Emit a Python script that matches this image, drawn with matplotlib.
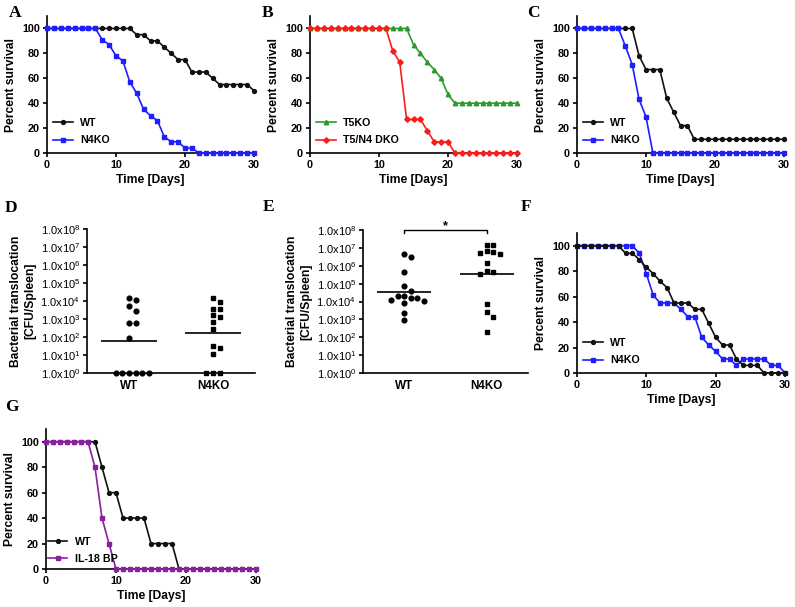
import numpy as np
import matplotlib
matplotlib.use('Agg')
import matplotlib.pyplot as plt

plt.rcParams['font.family'] = ['Liberation Sans', 'DejaVu Sans']
plt.rcParams['mathtext.fontset'] = 'custom'
plt.rcParams['mathtext.rm'] = 'Liberation Sans'
plt.rcParams['mathtext.it'] = 'Liberation Sans:italic'
plt.rcParams['mathtext.bf'] = 'Liberation Sans:bold'

# ---------------- data ----------------
days = list(range(31))

A_wt = [100, 100, 100, 100, 100, 100, 100, 100, 100, 100, 100, 100, 100, 95, 95, 90,
        90, 85, 80, 75, 75, 65, 65, 65, 60, 55, 55, 55, 55, 55, 50]
A_n4ko = [100, 100, 100, 100, 100, 100, 100, 100, 91, 87, 78, 74, 57, 48, 35, 30,
          26, 13, 9, 9, 4, 4, 0, 0, 0, 0, 0, 0, 0, 0, 0]

B_t5ko = [100, 100, 100, 100, 100, 100, 100, 100, 100, 100, 100, 100, 100, 100, 100, 87,
          80, 73, 67, 60, 47, 40, 40, 40, 40, 40, 40, 40, 40, 40, 40]
B_dko = [100, 100, 100, 100, 100, 100, 100, 100, 100, 100, 100, 100, 82, 73, 27, 27,
         27, 18, 9, 9, 9, 0, 0, 0, 0, 0, 0, 0, 0, 0, 0]

C_wt = [100, 100, 100, 100, 100, 100, 100, 100, 100, 78, 67, 67, 67, 44, 33, 22,
        22, 11, 11, 11, 11, 11, 11, 11, 11, 11, 11, 11, 11, 11, 11]
C_n4ko = [100, 100, 100, 100, 100, 100, 100, 86, 71, 43, 29, 0, 0, 0, 0, 0,
          0, 0, 0, 0, 0, 0, 0, 0, 0, 0, 0, 0, 0, 0, 0]

F_wt = [100, 100, 100, 100, 100, 100, 100, 94, 94, 89, 83, 78, 72, 67, 55, 55,
        55, 50, 50, 39, 28, 22, 22, 11, 6, 6, 6, 0, 0, 0, 0]
F_n4ko = [100, 100, 100, 100, 100, 100, 100, 100, 100, 94, 78, 61, 55, 55, 55, 50,
          44, 44, 28, 22, 17, 11, 11, 6, 11, 11, 11, 11, 6, 6, 0]

G_wt = [100, 100, 100, 100, 100, 100, 100, 100, 80, 60, 60, 40, 40, 40, 40, 20,
        20, 20, 20, 0, 0, 0, 0, 0, 0, 0, 0, 0, 0, 0, 0]
G_il18bp = [100, 100, 100, 100, 100, 100, 100, 80, 40, 20, 0, 0, 0, 0, 0, 0,
            0, 0, 0, 0, 0, 0, 0, 0, 0, 0, 0, 0, 0, 0, 0]

groups = ['WT', 'N4KO']
D_wt = [1.5e4, 1.1e4, 5e3, 2.8e3, 600, 600, 90, 1, 1, 1, 1, 1, 1]
D_n4ko = [1.5e4, 8.7e3, 3.5e3, 3.5e3, 1.6e3, 1.3e3, 680, 280, 32, 25, 11, 1, 1, 1]
D_means = [58, 165]

E_wt = [4.5e6, 3e6, 4.4e5, 7e4, 3.8e4, 2e4, 2e4, 1.6e4, 1.6e4, 1.2e4, 1.1e4, 8e3, 2.2e3, 900]
E_n4ko = [1.4e7, 1.4e7, 6.6e6, 5.8e6, 5e6, 4.5e6, 1.4e6, 5e5, 4.4e5, 3.4e5, 7e3, 2.6e3, 1.35e3, 200]
E_means = [3.5e4, 3.4e5]

# ---------------- layout ----------------
W, H = 795, 607
fig = plt.figure(figsize=(W / 100, H / 100), dpi=100)


def px_axes(left, top, right, bottom):
    return fig.add_axes([left / W, 1 - bottom / H, (right - left) / W, (bottom - top) / H])


TICK_FS = 7.8
LAB_FS = 8.7


def style_common(ax):
    for s in ['top', 'right']:
        ax.spines[s].set_visible(False)
    for s in ['left', 'bottom']:
        ax.spines[s].set_linewidth(1.2)
    ax.tick_params(direction='out', length=3, width=1.2, labelsize=TICK_FS, pad=2)


def style_surv(ax):
    style_common(ax)
    ax.set_xlim(0, 30)
    ax.set_ylim(0, 110)
    ax.set_xticks([0, 10, 20, 30])
    ax.set_yticks([0, 20, 40, 60, 80, 100])
    for lab in ax.get_xticklabels() + ax.get_yticklabels():
        lab.set_fontweight('bold')
    ax.set_xlabel('Time [Days]', fontsize=LAB_FS, fontweight='bold', labelpad=3)
    ax.set_ylabel('Percent survival', fontsize=LAB_FS, fontweight='bold', labelpad=4)


def surv_line(ax, y, color, marker, ms, label, z):
    ax.plot(days, y, color=color, marker=marker, ms=ms, lw=1.2, label=label,
            clip_on=False, zorder=z, mec=color, mfc=color)


def surv_legend(ax, anchor):
    ax.legend(loc='lower left', bbox_to_anchor=anchor, frameon=False,
              prop={'weight': 'bold', 'size': 7.7}, handlelength=1.8,
              labelspacing=0.7, handletextpad=0.7, borderaxespad=0.0, borderpad=0.2)


BLUE = '#1e1eff'
BLACK = '#111111'

# A
axA = px_axes(47, 16, 254, 153)
surv_line(axA, A_wt, BLACK, 'o', 2.8, 'WT', 3)
surv_line(axA, A_n4ko, BLUE, 's', 3.2, 'N4KO', 4)
style_surv(axA)
surv_legend(axA, (0.02, 0.04))

# B
axB = px_axes(310, 16, 517, 153)
surv_line(axB, B_t5ko, '#2e9a2e', '^', 3.2, 'T5KO', 3)
surv_line(axB, B_dko, '#ff1a1a', 'D', 2.8, 'T5/N4 DKO', 4)
style_surv(axB)
surv_legend(axB, (0.02, 0.04))

# C
axC = px_axes(577, 16, 784, 153)
surv_line(axC, C_wt, BLACK, 'o', 2.8, 'WT', 3)
surv_line(axC, C_n4ko, BLUE, 's', 3.2, 'N4KO', 4)
style_surv(axC)
surv_legend(axC, (0.02, 0.04))

# F
axF = px_axes(577, 233, 785, 373)
surv_line(axF, F_wt, BLACK, 'o', 2.8, 'WT', 4)
surv_line(axF, F_n4ko, BLUE, 's', 3.2, 'N4KO', 3)
style_surv(axF)
surv_legend(axF, (0.02, 0.04))

# G
axG = px_axes(46, 429, 256, 569)
surv_line(axG, G_wt, BLACK, 'o', 2.8, 'WT', 3)
surv_line(axG, G_il18bp, '#8a1fa0', 's', 3.2, 'IL-18 BP', 4)
style_surv(axG)
surv_legend(axG, (0.0, 0.02))


# ---------------- scatter panels ----------------
def swarm(vals, center, xpx, ypx, step_px=6.6, diam=5.5):
    logs = np.log10(vals) * ypx
    order = np.argsort(-np.asarray(vals), kind='stable')
    placed = []
    xs = np.zeros(len(vals))
    cands = [0]
    for j in range(1, 20):
        cands += [j, -j]
    for i in order:
        x = 0.0
        for k in cands:
            x = k * step_px
            ok = all(np.hypot(x - px, logs[i] - py) >= diam for px, py in placed)
            if ok:
                break
        placed.append((x, logs[i]))
        xs[i] = center + x / xpx
    return xs


def yfmt(ax):
    ax.set_yscale('log')
    ax.set_ylim(1, 1e8)
    ax.set_yticks([10.0 ** k for k in range(9)])
    ax.set_yticklabels([r'$\mathregular{1.0x10^{%d}}$' % k for k in range(9)], fontsize=8)
    ax.minorticks_off()
    ax.set_xlim(-0.5, 1.5)
    ax.set_xticks([0, 1])
    ax.set_xticklabels(groups, fontweight='bold', fontsize=LAB_FS - 0.3)
    ax.tick_params(axis='x', length=0, pad=5)
    ax.set_ylabel('Bacterial translocation\n[CFU/Spleen]', fontsize=LAB_FS,
                  fontweight='bold', labelpad=3, linespacing=1.2)


def scatter_panel(ax, wt, ko, means, xpx, ypx):
    style_common(ax)
    xw = swarm(wt, 0, xpx, ypx)
    xk = swarm(ko, 1, xpx, ypx)
    ax.plot(xw, wt, 'o', color='black', ms=3.4, ls='none', clip_on=False, zorder=4)
    ax.plot(xk, ko, 's', color='black', ms=3.4, ls='none', clip_on=False, zorder=4)
    for c, m in zip([0, 1], means):
        ax.hlines(m, c - 0.33, c + 0.33, color='black', lw=1.2, zorder=3)
    yfmt(ax)


axD = px_axes(87, 229, 255, 373)
scatter_panel(axD, D_wt, D_n4ko, D_means, 84, 18)

axE = px_axes(363, 230, 528, 373)
scatter_panel(axE, E_wt, E_n4ko, E_means, 82.5, 17.9)
axE.plot([0, 0, 1, 1], [7.0e7, 1.02e8, 1.02e8, 7.0e7], color='black', lw=1.0, clip_on=False)
axE.text(0.5, 1.6e8, '*', ha='center', va='center', fontsize=9, fontweight='bold')

# ---------------- panel letters ----------------
for letter, x, y in [('A', 9, 13), ('B', 262, 13), ('C', 527, 13), ('D', 5, 208),
                     ('E', 263, 207), ('F', 521, 207), ('G', 5, 407)]:
    fig.text(x / W, 1 - y / H, letter, fontsize=12.5, fontweight='bold',
             family=['Liberation Serif', 'DejaVu Serif'], ha='left', va='center')

fig.savefig('out.png', dpi=100)
